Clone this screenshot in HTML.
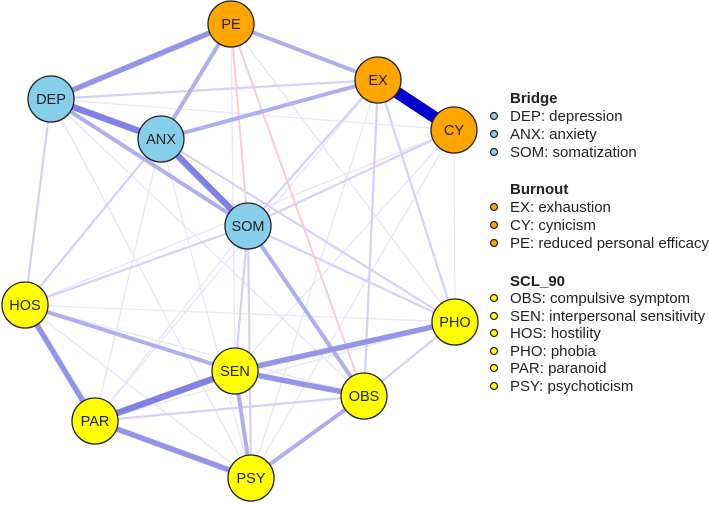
<!DOCTYPE html>
<html><head><style>
body{margin:0;background:#fff;width:709px;height:503px;overflow:hidden;font-family:"Liberation Sans",sans-serif}
</style></head><body>
<svg width="709" height="503" xmlns="http://www.w3.org/2000/svg" font-family="Liberation Sans, sans-serif">
<g stroke-linecap="round">
<g stroke="#e6e6f8" stroke-width="1.3">
<line x1="51" y1="99" x2="364" y2="396"/><line x1="51" y1="99" x2="251" y2="478"/>
<line x1="51" y1="99" x2="454" y2="130"/><line x1="161" y1="139" x2="455" y2="322"/>
<line x1="161" y1="139" x2="95" y2="421"/><line x1="231" y1="24" x2="455" y2="322"/>
<line x1="231" y1="24" x2="364" y2="396"/><line x1="378" y1="80" x2="95" y2="421"/>
<line x1="454" y1="130" x2="25" y2="305"/><line x1="454" y1="130" x2="251" y2="478"/>
<line x1="454" y1="130" x2="455" y2="322"/><line x1="25" y1="305" x2="455" y2="322"/>
<line x1="25" y1="305" x2="364" y2="396"/><line x1="25" y1="305" x2="251" y2="478"/>
<line x1="95" y1="421" x2="455" y2="322"/><line x1="248" y1="226" x2="95" y2="421"/>
<line x1="161" y1="139" x2="251" y2="478"/><line x1="231" y1="24" x2="235" y2="371"/>
<line x1="378" y1="80" x2="251" y2="478"/><line x1="454" y1="130" x2="235" y2="371"/>
</g>
<g stroke="#d2d2f4" stroke-width="2.2">
<line x1="51" y1="99" x2="25" y2="305"/><line x1="161" y1="139" x2="25" y2="305"/>
<line x1="248" y1="226" x2="25" y2="305"/><line x1="378" y1="80" x2="248" y2="226"/>
<line x1="378" y1="80" x2="364" y2="396"/><line x1="454" y1="130" x2="248" y2="226"/>
<line x1="161" y1="139" x2="455" y2="322"/><line x1="248" y1="226" x2="455" y2="322"/>
<line x1="95" y1="421" x2="364" y2="396"/><line x1="51" y1="99" x2="378" y2="80"/>
<line x1="248" y1="226" x2="235" y2="371"/><line x1="248" y1="226" x2="251" y2="478"/>
<line x1="455" y1="322" x2="364" y2="396"/><line x1="378" y1="80" x2="455" y2="322"/>
</g>
<g stroke="#f2d0d0" stroke-width="2">
<line x1="231" y1="24" x2="378" y2="80"/><line x1="231" y1="24" x2="248" y2="226"/>
<line x1="231" y1="24" x2="364" y2="396"/>
</g>
<g stroke="#aeaef0" stroke-width="4">
<line x1="231" y1="24" x2="161" y2="139"/><line x1="231" y1="24" x2="378" y2="80"/>
<line x1="161" y1="139" x2="378" y2="80"/><line x1="51" y1="99" x2="248" y2="226"/>
<line x1="25" y1="305" x2="235" y2="371"/><line x1="248" y1="226" x2="364" y2="396"/>
<line x1="364" y1="396" x2="251" y2="478"/><line x1="235" y1="371" x2="251" y2="478"/>
</g>
<g stroke="#9494ea" stroke-width="5.5">
<line x1="51" y1="99" x2="231" y2="24"/><line x1="25" y1="305" x2="95" y2="421"/>
<line x1="95" y1="421" x2="251" y2="478"/><line x1="235" y1="371" x2="364" y2="396"/>
<line x1="235" y1="371" x2="455" y2="322"/>
</g>
<g stroke="#8080e6" stroke-width="6.5">
<line x1="51" y1="99" x2="161" y2="139"/><line x1="161" y1="139" x2="248" y2="226"/>
<line x1="95" y1="421" x2="235" y2="371"/>
</g>
<line x1="378" y1="80" x2="454" y2="130" stroke="#0000cc" stroke-width="12"/>
</g>
<g stroke="#222" stroke-width="1.3">
<g fill="#87ceeb">
<circle cx="51" cy="99" r="23"/><circle cx="161" cy="139" r="23"/><circle cx="248" cy="226" r="23"/>
</g>
<g fill="#ffa500">
<circle cx="231" cy="24" r="23"/><circle cx="378" cy="80" r="23"/><circle cx="454" cy="130" r="23"/>
</g>
<g fill="#ffff00">
<circle cx="25" cy="305" r="23"/><circle cx="455" cy="322" r="23"/><circle cx="235" cy="371" r="23"/>
<circle cx="364" cy="396" r="23"/><circle cx="95" cy="421" r="23"/><circle cx="251" cy="478" r="23"/>
</g>
</g>
<g font-size="14.5" text-anchor="middle" fill="#222">
<text x="51" y="104">DEP</text><text x="161" y="144">ANX</text><text x="248" y="231">SOM</text>
<text x="231" y="29">PE</text><text x="378" y="85">EX</text><text x="454" y="135">CY</text>
<text x="25" y="310">HOS</text><text x="455" y="327">PHO</text><text x="235" y="376">SEN</text>
<text x="364" y="401">OBS</text><text x="95" y="426">PAR</text><text x="251" y="483">PSY</text>
</g>
<g font-size="15" fill="#222">
<text x="510" y="103" font-weight="bold">Bridge</text>
<text x="510" y="121">DEP: depression</text><text x="510" y="139">ANX: anxiety</text><text x="510" y="157">SOM: somatization</text>
<text x="510" y="194" font-weight="bold">Burnout</text>
<text x="510" y="212">EX: exhaustion</text><text x="510" y="230">CY: cynicism</text><text x="510" y="248">PE: reduced personal efficacy</text>
<text x="510" y="286" font-weight="bold">SCL_90</text>
<text x="510" y="303">OBS: compulsive symptom</text><text x="510" y="321">SEN: interpersonal sensitivity</text>
<text x="510" y="338">HOS: hostility</text><text x="510" y="356">PHO: phobia</text>
<text x="510" y="373">PAR: paranoid</text><text x="510" y="391">PSY: psychoticism</text>
</g>
<g stroke="#222" stroke-width="1.2">
<g fill="#87ceeb"><circle cx="494" cy="116" r="3.5"/><circle cx="494" cy="134" r="3.5"/><circle cx="494" cy="152" r="3.5"/></g>
<g fill="#ffa500"><circle cx="494" cy="207" r="3.5"/><circle cx="494" cy="225" r="3.5"/><circle cx="494" cy="243" r="3.5"/></g>
<g fill="#ffff00"><circle cx="494" cy="298" r="3.5"/><circle cx="494" cy="316" r="3.5"/><circle cx="494" cy="333" r="3.5"/>
<circle cx="494" cy="351" r="3.5"/><circle cx="494" cy="368" r="3.5"/><circle cx="494" cy="386" r="3.5"/></g>
</g>
</svg>
</body></html>
